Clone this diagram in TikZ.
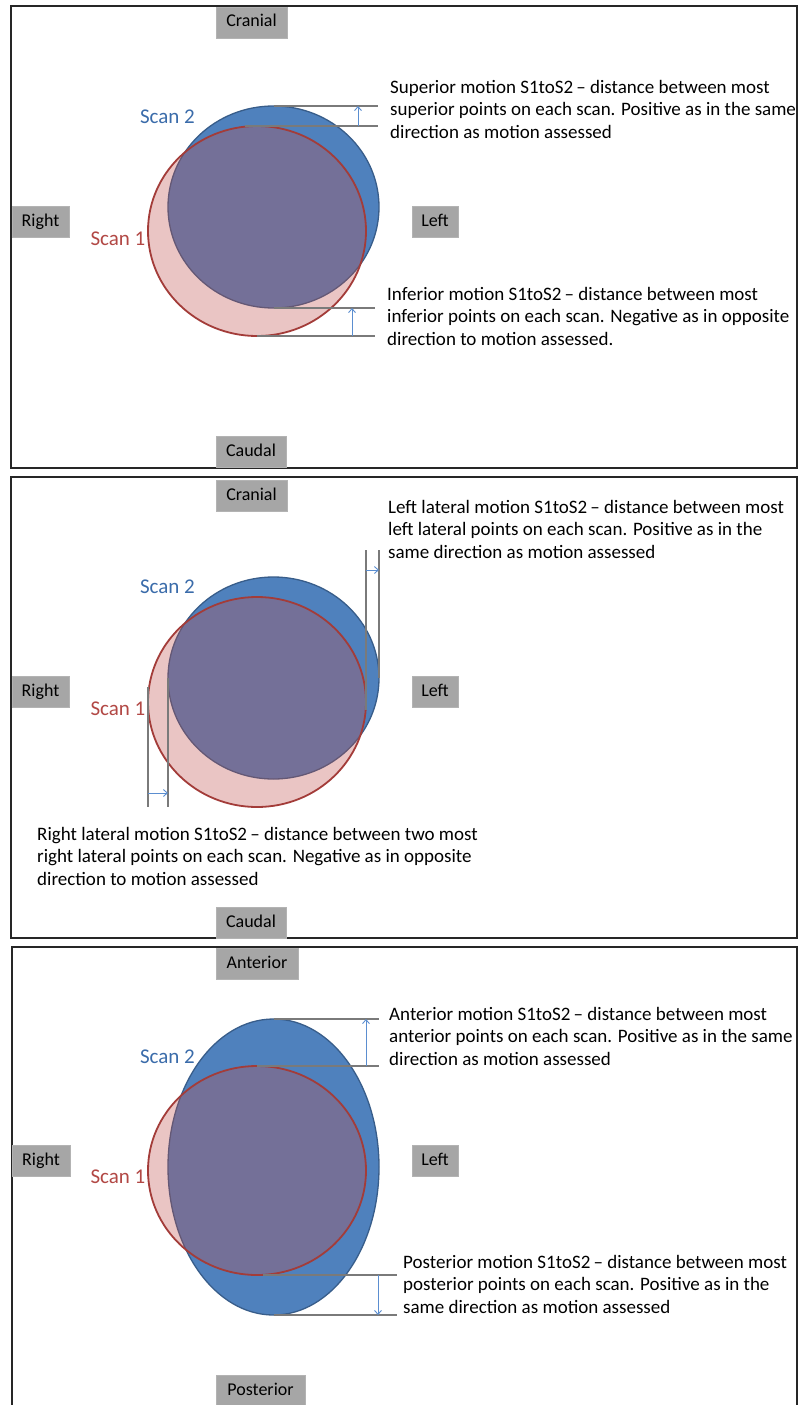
\documentclass[tikz,border=0pt]{standalone}
\usepackage{fontspec}
\setmainfont{Carlito}
\usetikzlibrary{shapes.geometric,arrows.meta}
\definecolor{scanblue}{HTML}{4F81BD}
\definecolor{scanblueline}{HTML}{385D8A}
\definecolor{scanred}{HTML}{C0504D}
\definecolor{scanredline}{HTML}{A33C39}
\definecolor{tagc}{HTML}{A6A6A6}
\definecolor{labblue}{HTML}{3B6CAA}
\definecolor{labred}{HTML}{B24845}
\definecolor{dimgray}{HTML}{7A7A7A}
\definecolor{arrowblue}{HTML}{5B8ED0}
\begin{document}
\begin{tikzpicture}[x=1pt,y=-1pt,
  frame/.style={draw=black!85, line width=1.3pt},
  tagbox/.style={fill=tagc, draw=tagc!85!white, line width=0.8pt, inner sep=0,
    minimum height=31, text height=12.5pt, text depth=3.5pt,
    font=\fontsize{18}{20}\selectfont},
  scantwo/.style={ellipse, draw=scanblueline, fill=scanblue, line width=1.3pt,
    inner sep=0, outer sep=0},
  scanone/.style={ellipse, draw=scanredline, fill=scanred, fill opacity=0.33,
    line width=1.8pt, inner sep=0, outer sep=0},
  scanlab/.style={font=\fontsize{21}{24}\selectfont, inner sep=0},
  dim/.style={draw=dimgray, line width=1.3pt},
  dimarrow/.style={draw=arrowblue, line width=0.9pt,
    -{Straight Barb[length=4pt,width=7pt]}},
  note/.style={anchor=north west, inner sep=0, align=left,
    font=\fontsize{19}{22.5}\selectfont}]

\clip (0,0) rectangle (798,1405);
\fill[white] (0,0) rectangle (798,1405);

% ---------------- superior / inferior ----------------
\draw[frame] (11,6) rectangle (797,468);
\node[scantwo, minimum width=211, minimum height=202] (a2) at (273.5,207) {};
\node[scanone, minimum width=218, minimum height=210] (a1) at (257,231) {};
\node[scanlab, text=labblue] (a2lab) at (167.5,117) {Scan 2};
\node[scanlab, text=labred] (a1lab) at (118,238.5) {Scan 1};

\coordinate (asupx) at (378,0);
\coordinate (asuparr) at (358,0);
\draw[dim] (a2.north) -- (a2.north -| asupx);
\draw[dim] ([xshift=-12]a1.north) -- (a1.north -| asupx);
\draw[dimarrow] (a1.north -| asuparr) -- (a2.north -| asuparr);

\coordinate (ainfx) at (375,0);
\coordinate (ainfarr) at (352,0);
\draw[dim] (a2.south) -- (a2.south -| ainfx);
\draw[dim] (a1.south) -- (a1.south -| ainfx);
\draw[dimarrow] (a1.south -| ainfarr) -- (a2.south -| ainfarr);

\node[note] (asup) at (390,80) {Superior motion S1toS2\,– distance between most\\superior points on each scan. Positive as in the same\\direction as motion assessed};
\node[note] (ainf) at (387,287) {Inferior motion S1toS2\,– distance between most\\inferior points on each scan. Negative as in opposite\\direction to motion assessed.};

\node[tagbox, minimum width=71] (acran) at (251.5,22.5) {Cranial};
\node[tagbox, minimum width=57] (aright) at (40.5,221.5) {Right};
\node[tagbox, minimum width=46] (aleft) at (435,221.5) {Left};
\node[tagbox, minimum width=70] (acaud) at (251,452) {Caudal};

% ---------------- left / right lateral ----------------
\draw[frame] (11,477) rectangle (797,938);
\node[scantwo, minimum width=211, minimum height=202] (b2) at (273.5,678) {};
\node[scanone, minimum width=218, minimum height=210] (b1) at (257,702) {};
\node[scanlab, text=labblue] (b2lab) at (167.5,587) {Scan 2};
\node[scanlab, text=labred] (b1lab) at (118,709) {Scan 1};

\coordinate (blefty) at (0,550);
\coordinate (bleftarr) at (0,570);
\draw[dim] ([yshift=-8]b1.east) -- (b1.east |- blefty);
\draw[dim] (b2.east) -- (b2.east |- blefty);
\draw[dimarrow] (b1.east |- bleftarr) -- (b2.east |- bleftarr);

\coordinate (brighty) at (0,807);
\coordinate (brightarr) at (0,793);
\draw[dim] ([yshift=15]b1.west) -- (b1.west |- brighty);
\draw[dim] (b2.west) -- (b2.west |- brighty);
\draw[dimarrow] (b1.west |- brightarr) -- (b2.west |- brightarr);

\node[note] (bleftnote) at (388,500) {Left lateral motion S1toS2\,– distance between most\\left lateral points on each scan. Positive as in the\\same direction as motion assessed};
\node[note] (brightnote) at (37,827) {Right lateral motion S1toS2\,– distance between two most\\right lateral points on each scan. Negative as in opposite\\direction to motion assessed};

\node[tagbox, minimum width=71] (bcran) at (251.5,495.5) {Cranial};
\node[tagbox, minimum width=57] (bright) at (40.5,692) {Right};
\node[tagbox, minimum width=46] (bleft) at (435,692) {Left};
\node[tagbox, minimum width=70] (bcaud) at (251,922.5) {Caudal};

% ---------------- anterior / posterior ----------------
\draw[frame] (12,947) rectangle (797,1430);
\node[scantwo, minimum width=211, minimum height=296] (c2) at (273.5,1167) {};
\node[scanone, minimum width=218, minimum height=209] (c1) at (257,1170.5) {};
\node[scanlab, text=labblue] (c2lab) at (167.5,1057) {Scan 2};
\node[scanlab, text=labred] (c1lab) at (118,1177) {Scan 1};

\coordinate (cantx) at (379,0);
\coordinate (cantarr) at (366,0);
\draw[dim] (c2.north) -- (c2.north -| cantx);
\draw[dim] (c1.north) -- (c1.north -| cantx);
\draw[dimarrow] (c1.north -| cantarr) -- (c2.north -| cantarr);

\coordinate (cpostx) at (397,0);
\coordinate (cpostarr) at (378,0);
\draw[dim] ([xshift=6]c1.south) -- (c1.south -| cpostx);
\draw[dim] (c2.south) -- (c2.south -| cpostx);
\draw[dimarrow] (c1.south -| cpostarr) -- (c2.south -| cpostarr);

\node[note] (cantnote) at (389,1007) {Anterior motion S1toS2\,– distance between most\\anterior points on each scan. Positive as in the same\\direction as motion assessed};
\node[note] (cpostnote) at (403,1255) {Posterior motion S1toS2\,– distance between most\\posterior points on each scan. Positive as in the\\same direction as motion assessed};

\node[tagbox, minimum width=82] (cant) at (257,963.5) {Anterior};
\node[tagbox, minimum width=58] (cright) at (41,1161) {Right};
\node[tagbox, minimum width=46] (cleft) at (435,1160.5) {Left};
\node[tagbox, minimum width=89] (cpost) at (260.5,1390.5) {Posterior};
\end{tikzpicture}
\end{document}
